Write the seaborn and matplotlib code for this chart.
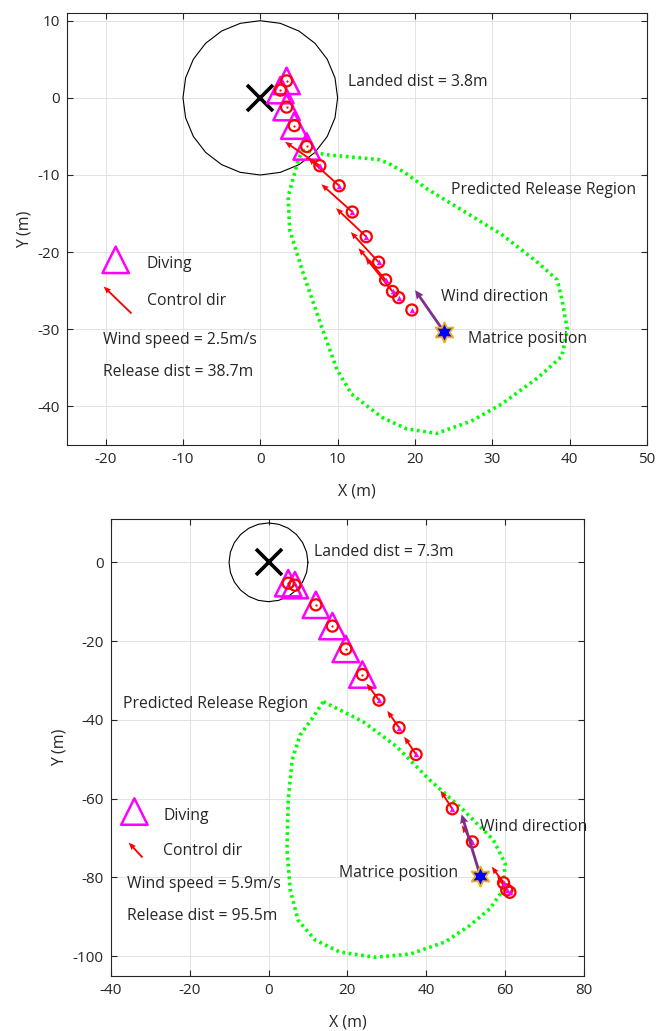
import numpy as np
import pandas as pd
import matplotlib
matplotlib.use("Agg")
import matplotlib.pyplot as plt
import seaborn as sns

# ---------------- data: top panel ----------------
top_dive_x = [3.4, 2.6, 3.4, 4.4, 6.0]
top_dive_y = [2.2, 1.0, -1.2, -3.6, -6.3]
top_ctrl_x = [7.7, 10.2, 11.9, 13.7, 15.3, 16.2, 17.1, 17.9, 19.6]
top_ctrl_y = [-8.8, -11.4, -14.8, -18.0, -21.3, -23.6, -25.1, -25.9, -27.5]
top_ctrl_u = [-4.5, -4.0, -4.0, -3.9, -3.6, -3.5, -3.5, 0.0, 0.0]
top_ctrl_v = [3.1, 3.6, 3.6, 3.7, 3.9, 4.1, 4.4, 0.0, 0.0]
top_region_x = [5.4, 8.8, 15.3, 16.6, 18.7, 21.7, 26.0, 31.2, 35.7, 38.4, 39.0, 39.7,
                39.0, 36.0, 31.2, 27.3, 22.8, 18.9, 15.7, 11.8, 9.9, 7.9, 5.4, 3.8, 3.6, 4.9, 5.4]
top_region_y = [-6.8, -7.4, -8.0, -8.5, -9.7, -11.9, -14.5, -17.7, -21.2, -23.6, -26.1, -30.0,
                -33.5, -36.2, -39.7, -41.9, -43.5, -42.9, -41.4, -38.4, -35.2, -29.6, -22.3, -17.1, -12.8, -8.1, -6.8]
top_matrice = (23.7, -30.4)
top_wind = (-3.8, 5.5)
top_radius = 10.0
top_texts = {"landed": "Landed dist = 3.8m", "speed": "Wind speed = 2.5m/s",
             "release": "Release dist = 38.7m"}

# ---------------- data: bottom panel ----------------
bot_dive_x = [5.0, 6.7, 12.0, 16.2, 19.6, 23.8]
bot_dive_y = [-5.3, -5.8, -10.8, -16.2, -22.0, -28.5]
bot_ctrl_x = [28.0, 33.1, 37.4, 46.6, 51.7, 59.6, 60.4, 61.2]
bot_ctrl_y = [-35.0, -42.0, -48.8, -62.6, -71.0, -81.4, -83.2, -83.8]
bot_ctrl_u = [-3.1, -3.0, -3.0, -3.0, -2.7, -3.0, -2.4, 0.0]
bot_ctrl_v = [4.2, 4.3, 4.5, 4.6, 4.2, 4.1, 3.5, 0.0]
bot_region_x = [13.9, 18.1, 24.0, 32.5, 40.9, 49.4, 57.0, 60.0, 59.5, 56.2, 51.1, 44.8,
                35.9, 27.0, 18.1, 11.8, 7.5, 5.5, 4.7, 5.0, 6.0, 8.0, 11.4, 13.9]
bot_region_y = [-35.4, -37.5, -40.5, -46.8, -55.3, -62.9, -70.5, -76.5, -83.2, -87.9, -92.2, -96.4,
                -99.5, -100.3, -99.0, -95.9, -90.9, -83.2, -73.0, -60.3, -50.2, -43.9, -39.2, -35.4]
bot_matrice = (53.5, -79.7)
bot_wind = (-4.8, 15.8)
bot_radius = 10.0
bot_texts = {"landed": "Landed dist = 7.3m", "speed": "Wind speed = 5.9m/s",
             "release": "Release dist = 95.5m"}

# ---------------- style ----------------
sns.set_theme(style="whitegrid")
FONT = ["Open Sans", "DejaVu Sans"]
plt.rcParams["font.family"] = FONT
TXT = "#262626"
plt.rcParams.update({
    "axes.unicode_minus": False,
    "axes.edgecolor": TXT, "axes.linewidth": 0.8,
    "grid.color": "#e3e3e3", "grid.linewidth": 0.7,
    "xtick.color": TXT, "ytick.color": TXT,
    "xtick.labelcolor": TXT, "ytick.labelcolor": TXT,
    "xtick.direction": "in", "ytick.direction": "in",
    "xtick.top": True, "ytick.right": True,
    "xtick.major.size": 4, "ytick.major.size": 4,
    "xtick.major.width": 0.8, "ytick.major.width": 0.8,
    "xtick.bottom": True, "ytick.left": True,
})

fig = plt.figure(figsize=(6.56, 10.31), dpi=100)
fig.patch.set_facecolor("white")


def panel(ax, dive_x, dive_y, cx, cy, cu, cv, rx, ry, matrice, wind, radius,
          xlim, ylim, xticks, yticks, qwidth):
    ax.set_facecolor("white")
    # landing circle (polygonal like the original)
    th = np.linspace(0, 2 * np.pi, 25)
    ax.plot(radius * np.cos(th), radius * np.sin(th), color="black", lw=0.8, zorder=2)
    # predicted release region
    sns.lineplot(x=rx, y=ry, sort=False, estimator=None, ax=ax, color="#00ff00",
                 lw=2.6, linestyle=(0, (0.75, 1.0)), zorder=3)
    # target
    ax.plot([0], [0], marker="x", color="black", ms=19, mew=2.6, ls="none", zorder=6)
    # diving points
    ddf = pd.DataFrame({"x": dive_x, "y": dive_y})
    sns.scatterplot(data=ddf, x="x", y="y", ax=ax, marker="^", s=19 ** 2,
                    facecolor="none", edgecolor="#ff00ff", linewidth=1.8, zorder=7)
    sns.scatterplot(data=ddf, x="x", y="y", ax=ax, marker="o", s=8 ** 2,
                    facecolor="none", edgecolor="#ff0000", linewidth=1.6, zorder=8)
    sns.scatterplot(data=ddf, x="x", y="y", ax=ax, marker="o", s=1.6 ** 2,
                    color="#ff0000", linewidth=0, zorder=9)
    # control points
    cdf = pd.DataFrame({"x": cx, "y": cy, "u": cu, "v": cv})
    arr = cdf[(cdf.u != 0) | (cdf.v != 0)]
    ax.quiver(arr.x, arr.y, arr.u, arr.v, angles="xy", scale_units="xy", scale=1,
              color="#ff0000", width=qwidth, headwidth=3.2, headlength=4.0,
              headaxislength=3.6, zorder=8)
    sns.scatterplot(data=cdf, x="x", y="y", ax=ax, marker="o", s=8 ** 2,
                    facecolor="none", edgecolor="#ff0000", linewidth=1.6, zorder=8)
    sns.scatterplot(data=cdf, x="x", y="y", ax=ax, marker="^", s=4 ** 2,
                    color="#ff00ff", linewidth=0, zorder=9)
    # wind direction
    ax.quiver([matrice[0]], [matrice[1]], [wind[0]], [wind[1]], angles="xy",
              scale_units="xy", scale=1, color="#7e2f8e", width=qwidth * 1.5,
              headwidth=3.0, headlength=3.2, headaxislength=2.9, zorder=9)
    ax.plot([matrice[0]], [matrice[1]], marker=(6, 1, 0), ms=15, mfc="#0000ff",
            mec="#edb120", mew=1.3, ls="none", zorder=10)

    ax.set_xlim(*xlim)
    ax.set_ylim(*ylim)
    ax.set_xticks(xticks)
    ax.set_yticks(yticks)
    ax.tick_params(labelsize=11, pad=5)
    ax.set_xlabel("X (m)", fontsize=11.5, color=TXT, labelpad=12)
    ax.set_ylabel("Y (m)", fontsize=11.5, color=TXT, labelpad=4)
    ax.grid(True, zorder=0)
    for s in ax.spines.values():
        s.set_visible(True)
        s.set_color(TXT)
        s.set_linewidth(0.8)


fs = 11.3

ax1 = fig.add_axes([0.1021, 0.5684, 0.8841, 0.4190])
panel(ax1, top_dive_x, top_dive_y, top_ctrl_x, top_ctrl_y, top_ctrl_u, top_ctrl_v,
      top_region_x, top_region_y, top_matrice, top_wind, top_radius,
      (-25, 50), (-45, 11), np.arange(-20, 51, 10), np.arange(-40, 11, 10), 0.0032)
# legend-like items, top
sns.scatterplot(x=[-18.7], y=[-21.0], ax=ax1, marker="^", s=19 ** 2, facecolor="none",
                edgecolor="#ff00ff", linewidth=1.8, zorder=7)
ax1.quiver([-16.7], [-27.9], [-3.6], [3.5], angles="xy", scale_units="xy", scale=1,
           color="#ff0000", width=0.0032, headwidth=3.2, headlength=4.0,
           headaxislength=3.6, zorder=8)
ax1.text(11.4, 2.0, top_texts["landed"], fontsize=fs, color=TXT, va="center")
ax1.text(24.6, -11.9, "Predicted Release Region", fontsize=fs, color=TXT, va="center")
ax1.text(23.4, -25.8, "Wind direction", fontsize=fs, color=TXT, va="center")
ax1.text(26.9, -31.2, "Matrice position", fontsize=fs, color=TXT, va="center")
ax1.text(-14.7, -21.5, "Diving", fontsize=fs, color=TXT, va="center")
ax1.text(-14.7, -26.3, "Control dir", fontsize=fs, color=TXT, va="center")
ax1.text(-20.4, -31.4, top_texts["speed"], fontsize=fs, color=TXT, va="center")
ax1.text(-20.4, -35.6, top_texts["release"], fontsize=fs, color=TXT, va="center")

ax2 = fig.add_axes([0.1688, 0.0536, 0.7215, 0.4430])
panel(ax2, bot_dive_x, bot_dive_y, bot_ctrl_x, bot_ctrl_y, bot_ctrl_u, bot_ctrl_v,
      bot_region_x, bot_region_y, bot_matrice, bot_wind, bot_radius,
      (-40, 80), (-105, 11), np.arange(-40, 81, 20), np.arange(-100, 1, 20), 0.0040)
sns.scatterplot(x=[-34.0], y=[-63.3], ax=ax2, marker="^", s=19 ** 2, facecolor="none",
                edgecolor="#ff00ff", linewidth=1.8, zorder=7)
ax2.quiver([-32.0], [-74.9], [-3.5], [3.8], angles="xy", scale_units="xy", scale=1,
           color="#ff0000", width=0.0040, headwidth=3.2, headlength=4.0,
           headaxislength=3.6, zorder=8)
ax2.text(11.6, 2.5, bot_texts["landed"], fontsize=fs, color=TXT, va="center")
ax2.text(-36.9, -36.0, "Predicted Release Region", fontsize=fs, color=TXT, va="center")
ax2.text(53.6, -67.2, "Wind direction", fontsize=fs, color=TXT, va="center")
ax2.text(17.95, -79.0, "Matrice position", fontsize=fs, color=TXT, va="center")
ax2.text(-26.7, -64.4, "Diving", fontsize=fs, color=TXT, va="center")
ax2.text(-26.7, -73.3, "Control dir", fontsize=fs, color=TXT, va="center")
ax2.text(-35.8, -81.8, bot_texts["speed"], fontsize=fs, color=TXT, va="center")
ax2.text(-35.8, -89.8, bot_texts["release"], fontsize=fs, color=TXT, va="center")

for ax in (ax1, ax2):
    lg = ax.get_legend()
    if lg is not None:
        lg.remove()

fig.savefig("out.png", dpi=100, facecolor="white")
